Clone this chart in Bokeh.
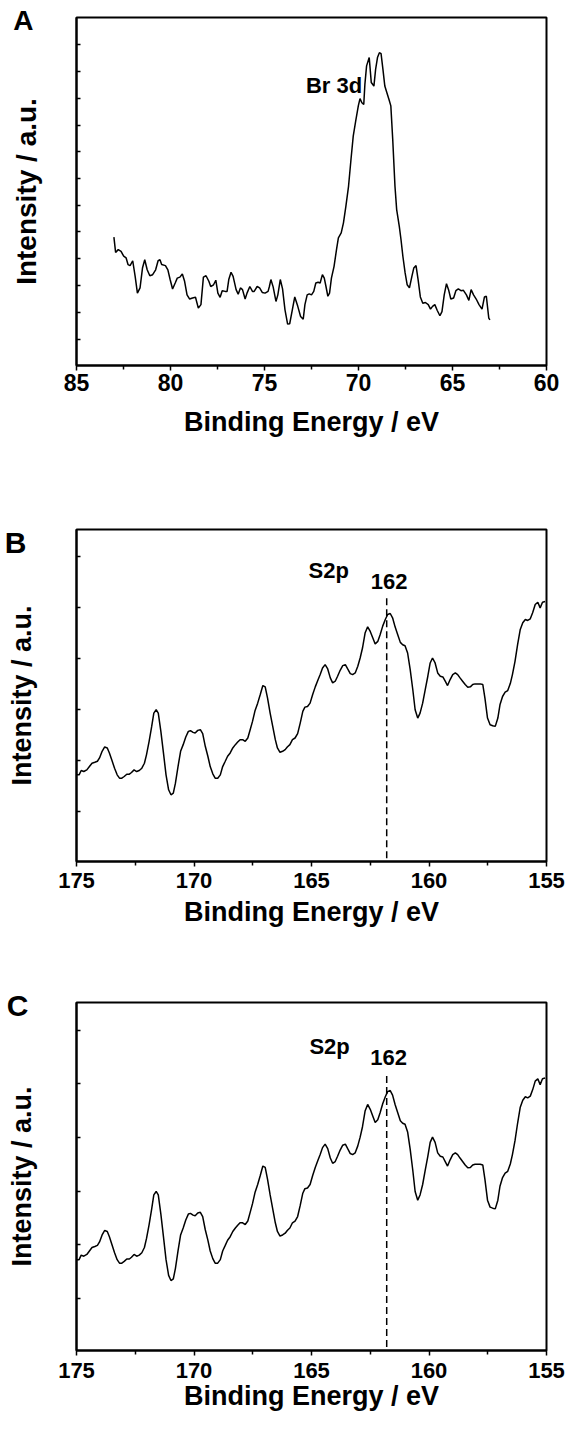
from bokeh.plotting import figure
from bokeh.layouts import column
from bokeh.models import Range1d, FixedTicker, Label
from bokeh.embed import file_html
from bokeh.resources import INLINE

FONT = "Liberation Sans"

# ---------------- data ----------------
# Panel A: Br 3d region
energy_a = [83.01, 82.92, 82.78, 82.63, 82.49, 82.36, 82.26, 82.15, 82.01, 81.88,
            81.76, 81.62, 81.49, 81.37, 81.24, 81.10, 80.95, 80.79, 80.66, 80.56,
            80.47, 80.27, 80.14, 80.02, 79.89, 79.75, 79.64, 79.50, 79.37, 79.25,
            79.12, 78.98, 78.83, 78.67, 78.52, 78.38, 78.25, 78.11, 77.96, 77.86,
            77.71, 77.59, 77.48, 77.36, 77.25, 77.09, 76.99, 76.90, 76.78, 76.67,
            76.51, 76.40, 76.28, 76.17, 76.03, 75.93, 75.78, 75.64, 75.55, 75.39,
            75.26, 75.12, 74.97, 74.81, 74.74, 74.66, 74.54, 74.39, 74.29, 74.16,
            74.04, 73.91, 73.77, 73.66, 73.52, 73.39, 73.23, 73.08, 72.94, 72.85,
            72.73, 72.62, 72.50, 72.38, 72.27, 72.15, 72.04, 71.92, 71.82, 71.73,
            71.63, 71.54, 71.44, 71.30, 71.17, 71.07, 70.92, 70.80, 70.67, 70.53,
            70.40, 70.28, 70.15, 70.01, 69.92, 69.82, 69.72, 69.66, 69.57, 69.43,
            69.32, 69.18, 69.09, 68.99, 68.89, 68.80, 68.70, 68.60, 68.49, 68.37,
            68.28, 68.18, 68.06, 67.97, 67.83, 67.74, 67.64, 67.52, 67.41, 67.29,
            67.16, 67.06, 66.94, 66.83, 66.71, 66.58, 66.44, 66.29, 66.17, 66.06,
            65.94, 65.81, 65.67, 65.56, 65.44, 65.32, 65.21, 65.09, 64.94, 64.82,
            64.69, 64.55, 64.42, 64.26, 64.13, 64.01, 63.88, 63.74, 63.59, 63.43,
            63.30, 63.20, 63.07, 63.01]
intensity_a = [36.9, 32.5, 33.3, 32.8, 31.4, 30.9, 29.0, 28.7, 30.1, 25.6,
               20.8, 22.3, 28.0, 30.4, 27.5, 25.8, 26.1, 27.5, 30.1, 30.4,
               29.0, 28.7, 27.5, 24.7, 22.0, 23.7, 25.1, 25.4, 26.3, 24.2,
               20.3, 19.1, 19.4, 19.6, 16.5, 17.5, 25.4, 25.8, 24.2, 22.7,
               23.2, 24.5, 20.8, 19.6, 21.5, 21.3, 21.3, 24.7, 26.8, 25.6,
               21.8, 20.5, 22.3, 21.8, 19.1, 20.8, 22.7, 21.3, 21.3, 22.7,
               22.3, 21.0, 20.8, 21.3, 22.7, 24.7, 22.6, 18.4, 20.3, 24.7,
               22.0, 16.0, 11.9, 12.0, 16.0, 19.7, 17.0, 14.1, 13.3, 17.5,
               20.3, 20.6, 20.3, 21.3, 23.7, 23.9, 23.7, 26.1, 25.1, 22.7,
               19.9, 20.8, 25.1, 28.5, 33.3, 36.7, 38.1, 41.0, 45.8, 51.5,
               59.2, 65.9, 70.2, 74.6, 76.7, 75.5, 75.0, 80.8, 86.1, 88.5,
               81.3, 80.3, 85.1, 88.5, 89.9, 89.6, 85.1, 80.3, 78.4, 76.3,
               74.6, 65.0, 51.5, 44.8, 40.0, 36.2, 31.4, 26.6, 23.2, 22.3,
               25.6, 28.0, 28.7, 24.7, 19.7, 17.9, 18.1, 17.5, 16.2, 17.0,
               17.5, 15.8, 14.3, 15.5, 20.3, 23.5, 21.8, 19.1, 19.4, 21.5,
               22.0, 21.5, 21.6, 20.3, 18.7, 21.8, 20.3, 19.1, 17.5, 16.2,
               19.7, 19.9, 13.6, 13.1]

# Panel B: S 2p region
energy_b = [175.00, 174.89, 174.80, 174.69, 174.56, 174.45, 174.34, 174.22, 174.11, 174.02,
            173.91, 173.80, 173.69, 173.60, 173.49, 173.38, 173.27, 173.17, 173.07, 172.97,
            172.86, 172.75, 172.66, 172.55, 172.44, 172.33, 172.22, 172.11, 172.02, 171.91,
            171.80, 171.71, 171.61, 171.52, 171.41, 171.30, 171.19, 171.08, 170.98, 170.88,
            170.79, 170.68, 170.57, 170.46, 170.35, 170.24, 170.15, 170.04, 169.95, 169.84,
            169.73, 169.63, 169.52, 169.41, 169.31, 169.20, 169.10, 168.99, 168.88, 168.78,
            168.67, 168.57, 168.46, 168.35, 168.24, 168.15, 168.04, 167.93, 167.82, 167.71,
            167.61, 167.51, 167.40, 167.29, 167.18, 167.07, 166.97, 166.87, 166.76, 166.65,
            166.54, 166.45, 166.34, 166.23, 166.12, 166.03, 165.92, 165.81, 165.70, 165.59,
            165.48, 165.37, 165.28, 165.17, 165.06, 164.95, 164.84, 164.73, 164.63, 164.53,
            164.42, 164.31, 164.20, 164.10, 163.99, 163.89, 163.78, 163.67, 163.56, 163.46,
            163.35, 163.25, 163.14, 163.03, 162.93, 162.83, 162.72, 162.61, 162.50, 162.39,
            162.29, 162.18, 162.08, 161.97, 161.86, 161.76, 161.65, 161.55, 161.44, 161.33,
            161.22, 161.12, 161.02, 160.91, 160.80, 160.69, 160.59, 160.48, 160.38, 160.27,
            160.16, 160.05, 159.95, 159.85, 159.74, 159.63, 159.52, 159.41, 159.31, 159.21,
            159.10, 158.99, 158.88, 158.78, 158.68, 158.57, 158.46, 158.35, 158.24, 158.14,
            158.04, 157.93, 157.82, 157.71, 157.62, 157.51, 157.40, 157.29, 157.18, 157.07,
            156.98, 156.87, 156.76, 156.65, 156.54, 156.45, 156.34, 156.23, 156.12, 156.01,
            155.90, 155.80, 155.69, 155.59, 155.48, 155.37, 155.27, 155.17, 155.06]
intensity_b = [26.1, 26.1, 27.4, 27.1, 27.6, 28.6, 29.6, 29.9, 30.2, 31.2,
               33.2, 34.5, 34.2, 32.7, 30.4, 28.1, 26.1, 25.1, 25.1, 25.6,
               26.3, 26.3, 26.8, 27.6, 27.1, 27.4, 28.1, 29.6, 32.2, 36.2,
               40.7, 44.7, 45.7, 44.7, 39.2, 32.7, 26.1, 21.6, 20.1, 20.6,
               23.6, 28.6, 33.2, 35.2, 37.5, 39.2, 39.4, 38.9, 38.7, 39.5,
               39.7, 38.5, 34.7, 31.7, 28.6, 26.4, 25.1, 25.1, 26.1, 28.6,
               30.2, 31.7, 32.7, 34.2, 35.2, 35.9, 36.7, 36.7, 36.2, 37.2,
               39.7, 42.2, 45.5, 47.7, 50.3, 53.0, 52.6, 49.2, 44.7, 40.7,
               36.7, 34.2, 32.9, 33.2, 33.7, 34.5, 35.2, 36.7, 37.2, 38.5,
               41.7, 45.2, 46.5, 46.7, 47.7, 50.3, 52.6, 54.6, 56.3, 58.3,
               59.3, 58.0, 55.3, 53.8, 54.3, 55.8, 57.6, 59.0, 59.3, 58.0,
               56.6, 56.3, 56.8, 58.8, 61.3, 64.3, 68.8, 70.7, 69.3, 67.3,
               65.5, 66.3, 68.3, 70.9, 72.9, 74.4, 74.7, 73.4, 70.6, 68.3,
               66.0, 65.3, 65.0, 62.8, 57.8, 51.8, 45.7, 43.2, 44.7, 47.7,
               51.8, 55.8, 59.8, 61.3, 59.8, 56.8, 55.8, 55.6, 54.3, 53.0,
               54.8, 56.3, 56.8, 56.3, 55.3, 54.3, 53.3, 52.5, 52.6, 53.3,
               53.5, 53.5, 53.5, 53.3, 49.2, 43.2, 41.2, 40.9, 40.7, 43.2,
               47.2, 49.7, 51.0, 51.5, 53.6, 56.3, 60.3, 65.3, 69.8, 71.9,
               72.9, 72.6, 73.1, 74.9, 77.4, 78.1, 76.4, 78.1, 78.3]

# Panel C: the same S 2p spectrum
energy_c = list(energy_b)
intensity_c = list(intensity_b)

# tick values
xticks_a = [85, 80, 75, 70, 65, 60]
xminor_a = [82.5, 77.5, 72.5, 67.5, 62.5]
xticks_s = [175, 170, 165, 160, 155]
xminor_s = [172.5, 167.5, 162.5, 157.5]
yticks_a = [7.6, 15.3, 23.0, 30.7, 38.4, 46.1, 53.7, 61.4, 69.1, 76.8, 84.5, 92.2]
yticks_s = [15.0, 30.4, 45.8, 61.1, 76.6, 92.0]

# annotations
peak_energy = [161.8]
peak_bottom = [1.0]
peak_top = [79.5]
panel_letters = ["A", "B", "C"]


def make_panel(height, borders, xr, xticks, xminor, yticks, tick_fs, title_fs,
               ytitle_fs, lab_standoff, title_standoff,
               letter, letter_y, letter_fs, letter_standoff, ytitle_standoff):
    left, right, top, bottom = borders
    p = figure(width=570, height=height, x_range=Range1d(*xr), y_range=Range1d(0, 100),
               output_backend="svg", toolbar_location=None,
               min_border_left=left, min_border_right=right,
               min_border_top=top, min_border_bottom=bottom)
    p.grid.visible = False
    p.outline_line_color = "black"
    p.outline_line_width = 2
    p.background_fill_color = "white"
    p.border_fill_color = "white"

    xa = p.xaxis[0]
    xa.ticker = FixedTicker(ticks=xticks, minor_ticks=xminor)
    xa.axis_line_width = 2
    xa.major_tick_in = 0
    xa.major_tick_out = 5
    xa.minor_tick_in = 0
    xa.minor_tick_out = 4
    xa.major_tick_line_width = 1.5
    xa.minor_tick_line_width = 1.5
    xa.major_label_text_font = FONT
    xa.major_label_text_font_style = "bold"
    xa.major_label_text_font_size = tick_fs
    xa.major_label_text_color = "black"
    xa.major_label_standoff = lab_standoff
    xa.axis_label = "Binding Energy / eV"
    xa.axis_label_text_font = FONT
    xa.axis_label_text_font_style = "bold"
    xa.axis_label_text_font_size = title_fs
    xa.axis_label_text_color = "black"
    xa.axis_label_standoff = title_standoff

    # left axis: the inward ticks are "minor" ticks; the single major tick
    # carries the panel letter as its label (drawn outside the frame)
    ya = p.yaxis[0]
    ya.ticker = FixedTicker(ticks=[letter_y], minor_ticks=yticks)
    ya.axis_line_width = 2
    ya.major_tick_in = 0
    ya.major_tick_out = 0
    ya.minor_tick_in = 4
    ya.minor_tick_out = 0
    ya.minor_tick_line_width = 1.5
    ya.minor_tick_line_color = "black"
    ya.major_label_overrides = {letter_y: letter}
    ya.major_label_text_font = FONT
    ya.major_label_text_font_style = "bold"
    ya.major_label_text_font_size = letter_fs
    ya.major_label_text_color = "black"
    ya.major_label_standoff = letter_standoff
    ya.axis_label = "Intensity / a.u."
    ya.axis_label_text_font = FONT
    ya.axis_label_text_font_style = "bold"
    ya.axis_label_text_font_size = ytitle_fs
    ya.axis_label_text_color = "black"
    ya.axis_label_standoff = ytitle_standoff
    return p


def add_label(p, x, y, text, size):
    p.add_layout(Label(x=x, y=y, text=text, text_align="center", text_baseline="middle",
                       text_font=FONT, text_font_style="bold", text_font_size=size,
                       text_color="black"))


# ---------------- panel A ----------------
pa = make_panel(452, (69, 22, 17, 87), (85, 60), xticks_a, xminor_a, yticks_a,
                "23px", "27px", "28px", 3, 13,
                panel_letters[0], 99, "28px", 43, -32)
pa.line(energy_a, intensity_a, line_color="black", line_width=1.5)
add_label(pa, 71.3, 80.4, "Br 3d", "22px")

# ---------------- panel B ----------------
pb = make_panel(484, (76, 19, 77, 75), (175, 155), xticks_s, xminor_s, yticks_s,
                "22px", "27px", "27px", 6, 6,
                panel_letters[1], 96, "30px", 50, -35)
pb.line(energy_b, intensity_b, line_color="black", line_width=1.5)
pb.segment(x0=peak_energy, y0=peak_bottom, x1=peak_energy, y1=peak_top,
           line_color="black", line_width=1.5, line_dash="7 4")
add_label(pb, 164.27, 87.6, "S2p", "22px")
add_label(pb, 161.7, 84.2, "162", "22px")

# ---------------- panel C ----------------
pc = make_panel(481, (73, 24, 66, 67), (175, 155), xticks_s, xminor_s, yticks_s,
                "22px", "27px", "27px", 7, 0,
                panel_letters[2], 99, "30px", 48, -33)
pc.line(energy_c, intensity_c, line_color="black", line_width=1.5)
pc.segment(x0=peak_energy, y0=peak_bottom, x1=peak_energy, y1=peak_top,
           line_color="black", line_width=1.5, line_dash="7 4")
add_label(pc, 164.23, 87.3, "S2p", "22px")
add_label(pc, 161.72, 84.2, "162", "22px")

layout = column(pa, pb, pc, spacing=0)
open("out.html", "w").write(file_html(layout, INLINE))
